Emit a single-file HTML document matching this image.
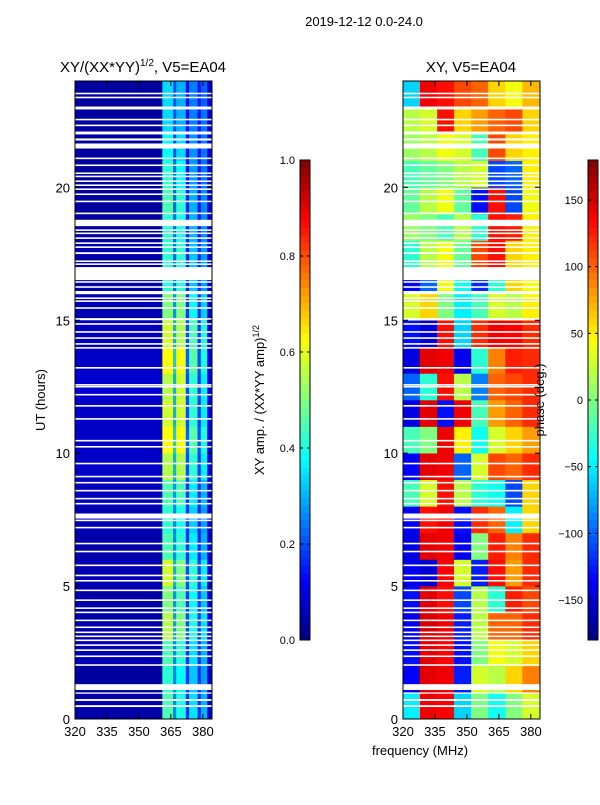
<!DOCTYPE html>
<html><head><meta charset="utf-8"><style>
body{margin:0;background:#fff;}
svg text{font-family:"Liberation Sans",sans-serif;fill:#000;}
</style></head><body>
<svg id="fig" width="600" height="800" xmlns="http://www.w3.org/2000/svg">
<rect width="600" height="800" fill="#fff"/>
<text x="364" y="26" font-size="13" text-anchor="middle">2019-12-12 0.0-24.0</text>
<text x="143" y="72" font-size="15" text-anchor="middle">XY/(XX*YY)<tspan font-size="10" dy="-6">1/2</tspan><tspan dy="6">, V5=EA04</tspan></text>
<text x="471" y="72" font-size="15" text-anchor="middle">XY, V5=EA04</text>
<g id="ampPanel"></g>
<g id="phPanel"></g>
<g id="axes"></g>
<text transform="translate(45,400) rotate(-90)" font-size="13" text-anchor="middle">UT (hours)</text>
<text x="420" y="755" font-size="13" text-anchor="middle">frequency (MHz)</text>
<text transform="translate(264,400) rotate(-90)" font-size="13" text-anchor="middle">XY amp. / (XX*YY amp)<tspan font-size="9" dy="-5">1/2</tspan></text>
<text transform="translate(544,400) rotate(-90)" font-size="13" text-anchor="middle">phase (deg.)</text>
</svg>
<script>
// ---- data ----
const ampFreqEdges = [320,361,366,367.5,372,373.5,377.5,379,382,384];
// rows: hour 0..23 (bottom to top)
const ampValues = [
[0.04,0.45,0.25,0.4,0.18,0.35,0.17,0.3,0.08],
[0.03,0.42,0.25,0.38,0.18,0.32,0.17,0.28,0.08],
[0.05,0.45,0.25,0.42,0.18,0.35,0.17,0.3,0.08],
[0.04,0.55,0.28,0.5,0.2,0.4,0.18,0.35,0.1],
[0.04,0.5,0.27,0.45,0.19,0.38,0.18,0.32,0.09],
[0.05,0.58,0.3,0.5,0.2,0.42,0.18,0.36,0.1],
[0.04,0.45,0.26,0.42,0.18,0.36,0.16,0.3,0.08],
[0.05,0.42,0.25,0.4,0.18,0.33,0.16,0.28,0.08],
[0.06,0.45,0.27,0.45,0.18,0.36,0.17,0.3,0.08],
[0.07,0.55,0.3,0.55,0.2,0.42,0.18,0.36,0.1],
[0.07,0.62,0.33,0.62,0.22,0.46,0.2,0.4,0.1],
[0.07,0.58,0.3,0.58,0.2,0.42,0.18,0.36,0.1],
[0.08,0.55,0.3,0.58,0.2,0.42,0.18,0.36,0.1],
[0.07,0.62,0.33,0.62,0.22,0.46,0.2,0.4,0.1],
[0.06,0.58,0.3,0.55,0.2,0.45,0.18,0.4,0.1],
[0.05,0.5,0.27,0.5,0.18,0.38,0.17,0.33,0.08],
[0.04,0.42,0.22,0.42,0.16,0.32,0.16,0.28,0.08],
[0.04,0.42,0.22,0.42,0.16,0.32,0.16,0.28,0.08],
[0.03,0.42,0.22,0.4,0.16,0.3,0.14,0.26,0.08],
[0.03,0.45,0.22,0.42,0.16,0.3,0.14,0.26,0.08],
[0.03,0.42,0.22,0.38,0.14,0.28,0.14,0.24,0.08],
[0.03,0.38,0.2,0.34,0.14,0.27,0.14,0.24,0.08],
[0.03,0.34,0.2,0.3,0.14,0.25,0.14,0.24,0.08],
[0.03,0.34,0.2,0.3,0.14,0.25,0.14,0.22,0.08]];
const phFreqEdges = [320,328,336,344,352,360,368,376,384];
const phValues = [
[-50,140,135,-60,0,-40,0,30],
[-135,145,140,-125,30,20,60,90],
[-130,145,135,-130,0,40,30,60],
[-140,150,140,-125,20,100,100,120],
[-130,145,130,-110,20,-30,125,110],
[-140,-150,135,30,-125,130,80,120],
[-145,145,140,-140,0,125,90,120],
[-140,130,140,-130,120,100,-50,60],
[-20,30,130,20,-30,-40,-110,60],
[-135,145,140,-100,30,110,100,120],
[-20,0,140,50,-40,30,60,80],
[-145,145,-130,140,-20,80,100,120],
[-100,-30,130,20,-90,100,110,120],
[-145,145,140,-140,-30,90,125,120],
[-130,-150,130,-60,120,140,135,120],
[30,60,0,-50,-20,30,20,50],
[-135,-100,40,-40,-120,-30,60,40],
[-30,20,40,-10,110,130,60,50],
[10,0,-20,20,-30,130,125,50],
[-10,20,40,-10,-130,130,-110,40],
[-20,-10,0,20,30,-110,-100,50],
[10,20,40,30,-20,110,60,50],
[20,30,130,60,80,100,110,60],
[-60,140,130,110,100,60,40,70]];
const gapStarts = [0.45,0.68,0.95,1.09,2.0,2.33,2.56,2.75,2.93,3.08,3.23,3.42,3.68,3.98,4.14,4.44,4.81,5.17,5.37,5.75,6.27,6.57,7.17,7.44,7.54,8.07,8.26,8.56,8.86,9.09,9.58,10.21,10.44,11.26,11.75,12.17,12.47,12.54,13.18,13.93,14.08,14.3,14.53,14.83,15.0,15.43,15.69,15.8,15.98,16.22,16.41,16.51,17.08,17.19,17.49,17.72,17.87,18.06,18.24,18.36,18.54,18.99,19.44,19.71,19.9,20.05,20.2,20.38,20.5,20.8,21.06,21.46,21.76,21.99,22.3,22.52,22.93,23.35,23.5];
const gapEnds =   [0.52,0.75,1.0,1.31,2.06,2.39,2.62,2.81,2.99,3.14,3.29,3.48,3.74,4.04,4.2,4.5,4.87,5.23,5.43,5.81,6.33,6.63,7.23,7.5,7.73,8.13,8.32,8.62,8.92,9.15,9.64,10.27,10.5,11.32,11.81,12.23,12.53,12.6,13.24,13.99,14.14,14.36,14.59,14.89,15.08,15.49,15.75,15.86,16.1,16.28,16.47,17.0,17.14,17.25,17.56,17.78,17.93,18.12,18.3,18.42,18.78,19.05,19.5,19.77,19.96,20.11,20.26,20.44,20.56,20.86,21.12,21.65,21.84,22.1,22.36,22.58,23.04,23.41,23.56];
const xTicks = [320,335,350,365,380];
const yTicks = [0,5,10,15,20];
const ampCbTicks = [0.0,0.2,0.4,0.6,0.8,1.0];
const phCbTicks = [-150,-100,-50,0,50,100,150];

// ---- scales ----
const NS='http://www.w3.org/2000/svg';
const yTop=81,yBot=719,tMax=24;
const panels=[{x0:75,x1:212,g:'ampPanel'},{x0:403,x1:540,g:'phPanel'}];
const fMin=320,fMax=384.3;
function xs(p,f){return p.x0+(f-fMin)/(fMax-fMin)*(p.x1-p.x0);}
function ys(h){return yBot-h/tMax*(yBot-yTop);}
function jet(v){v=Math.max(0,Math.min(1,v));
 const r=Math.min(1,Math.max(0,1.5-Math.abs(4*v-3))),g=Math.min(1,Math.max(0,1.5-Math.abs(4*v-2))),b=Math.min(1,Math.max(0,1.5-Math.abs(4*v-1)));
 return `rgb(${Math.round(r*255)},${Math.round(g*255)},${Math.round(b*255)})`;}
function mk(tag,attrs,parent){const e=document.createElementNS(NS,tag);for(const k in attrs)e.setAttribute(k,attrs[k]);parent.appendChild(e);return e;}

function drawHeat(p,edges,vals,norm,name){
 const g=document.getElementById(p.g);
 vals.forEach((row,h)=>{row.forEach((v,i)=>{
  const x=xs(p,edges[i]),x2=xs(p,edges[i+1]);
  const r=mk('rect',{x:x,y:ys(h+1),width:x2-x+0.3,height:ys(h)-ys(h+1)+0.3,fill:jet(norm(v))},g);
  
  
 });});
 gapStarts.forEach((s,i)=>{
  const r=mk('rect',{x:p.x0,y:ys(gapEnds[i]),width:p.x1-p.x0,height:ys(s)-ys(gapEnds[i]),fill:'#fff'},g);
  
  
 });
}
drawHeat(panels[0],ampFreqEdges,ampValues,v=>v,'amp-cell');
drawHeat(panels[1],phFreqEdges,phValues,v=>(v+180)/360,'phase-cell');

const ax=document.getElementById('axes');
panels.forEach((p,pi)=>{
 const f=mk('rect',{x:p.x0,y:yTop,width:p.x1-p.x0,height:yBot-yTop,fill:'none',stroke:'#000','stroke-width':1},ax);
 
 
 xTicks.forEach(t=>{const x=xs(p,t);
  mk('line',{x1:x,y1:yBot,x2:x,y2:yBot-5,stroke:'#000'},ax);
  mk('line',{x1:x,y1:yTop,x2:x,y2:yTop+5,stroke:'#000'},ax);
  const tx=mk('text',{x:x,y:yBot+17,'font-size':13,'text-anchor':'middle'},ax);tx.textContent=t;
  
  
 });
 yTicks.forEach(t=>{const y=ys(t);
  mk('line',{x1:p.x0,y1:y,x2:p.x0+5,y2:y,stroke:'#000'},ax);
  mk('line',{x1:p.x1,y1:y,x2:p.x1-5,y2:y,stroke:'#000'},ax);
  const tx=mk('text',{x:p.x0-5,y:y+5,'font-size':13,'text-anchor':'end'},ax);tx.textContent=t;
  
  
 });
});
// colorbars
function colorbar(x,ticks,lo,hi,name,fmt){
 const cy0=160,cy1=640,w=10;
 const n=64;
 for(let i=0;i<n;i++){
  const r=mk('rect',{x:x,y:cy1-(i+1)*(cy1-cy0)/n,width:w,height:(cy1-cy0)/n+0.5,fill:jet((i+0.5)/n)},ax);
  
  
 }
 const b=mk('rect',{x:x,y:cy0,width:w,height:cy1-cy0,fill:'none',stroke:'#000'},ax);
 
 
 ticks.forEach(t=>{const y=cy1-(t-lo)/(hi-lo)*(cy1-cy0);
  mk('line',{x1:x,y1:y,x2:x+3,y2:y,stroke:'#000'},ax);
  mk('line',{x1:x+w,y1:y,x2:x+w-3,y2:y,stroke:'#000'},ax);
  const tx=mk('text',{x:x-5,y:y+4,'font-size':11,'text-anchor':'end'},ax);tx.textContent=fmt(t);
  
  
 });
}
colorbar(300,ampCbTicks,0,1,'amp-colorbar',t=>t.toFixed(1));
colorbar(588,phCbTicks,-180,180,'phase-colorbar',t=>(t<0?'\u2212'+(-t):''+t));
</script>
</body></html>
